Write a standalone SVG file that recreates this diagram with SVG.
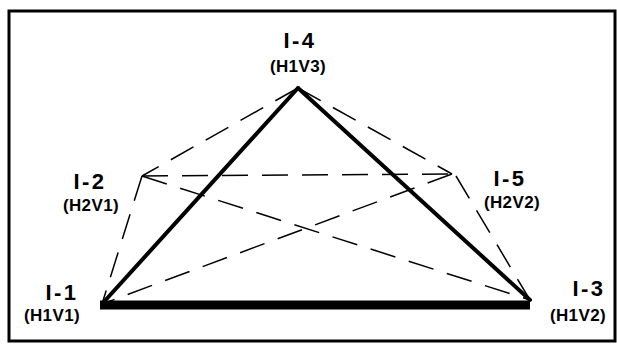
<svg xmlns="http://www.w3.org/2000/svg" width="617" height="345" viewBox="0 0 617 345">
<style>
.frame{fill:none;stroke:#000;stroke-width:3}
.dash{stroke:#000;stroke-width:1.5;stroke-dasharray:26 14;fill:none}
.solid{stroke:#000;stroke-width:4;fill:none;stroke-linecap:round}
.base{stroke:#000;stroke-width:9;fill:none}
.id{font-family:"Liberation Sans",Arial,sans-serif;font-weight:bold;font-size:22px;text-anchor:middle;letter-spacing:2.5px}
.code{font-family:"Liberation Sans",Arial,sans-serif;font-weight:bold;font-size:17px;text-anchor:middle;letter-spacing:0.4px}
</style>
<rect width="617" height="345" fill="#fff"/>
<rect class="frame" x="9" y="11" width="606" height="330"/>
<g id="connectors">
<line class="dash" x1="298" y1="88" x2="142" y2="176"/>
<line class="dash" x1="298" y1="88" x2="452" y2="174"/>
<line class="dash" x1="142" y1="176" x2="452" y2="174"/>
<line class="dash" x1="142" y1="176" x2="530" y2="300"/>
<line class="dash" x1="452" y1="174" x2="102" y2="304"/>
<line class="dash" x1="142" y1="176" x2="102" y2="304"/>
<line class="dash" x1="456" y1="176" x2="530" y2="300"/>
<line class="solid" x1="102" y1="304" x2="298" y2="88"/>
<line class="solid" x1="298" y1="88" x2="530" y2="300"/>
<line class="base" x1="100" y1="305" x2="530" y2="305"/>
</g>
<g id="I-4"><text class="id" x="300" y="48">I-4</text><text class="code" x="298" y="72">(H1V3)</text></g>
<g id="I-2"><text class="id" x="90" y="189">I-2</text><text class="code" x="91" y="211">(H2V1)</text></g>
<g id="I-5"><text class="id" x="510" y="186">I-5</text><text class="code" x="512" y="208">(H2V2)</text></g>
<g id="I-1"><text class="id" x="62" y="300">I-1</text><text class="code" x="52" y="321">(H1V1)</text></g>
<g id="I-3"><text class="id" x="589" y="296">I-3</text><text class="code" x="578" y="321">(H1V2)</text></g>
</svg>
